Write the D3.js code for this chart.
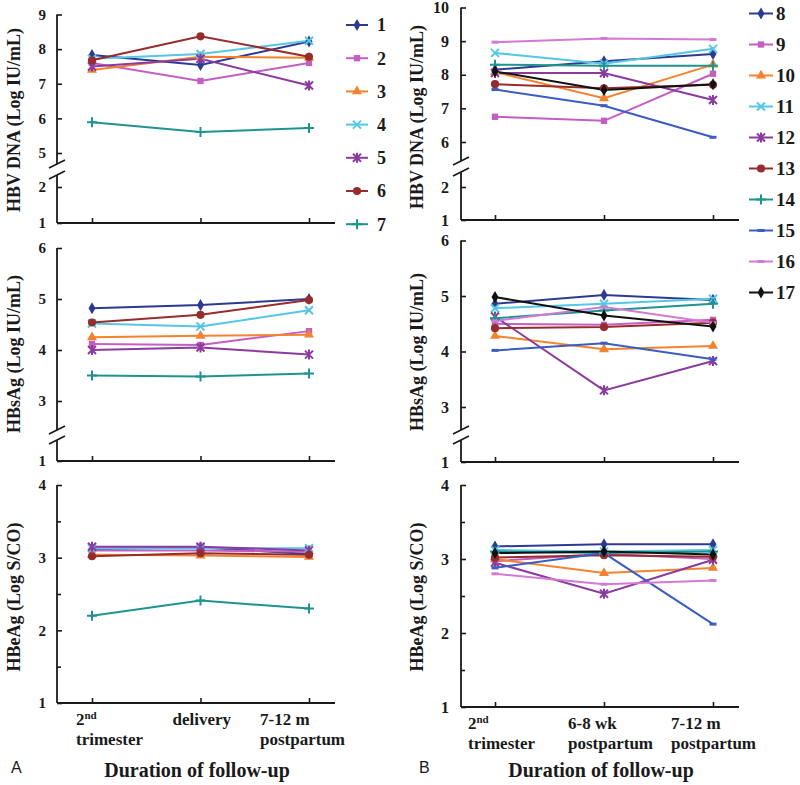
<!DOCTYPE html>
<html><head><meta charset="utf-8">
<script src="https://cdn.jsdelivr.net/npm/d3@7"></script>
<style>body{margin:0;background:#fff}svg{display:block;background:#fff}</style>
</head><body><svg id="c" width="800" height="785"></svg>
<script>
// ---------- DATA ----------
const seriesA = ["1","2","3","4","5","6","7"];
const seriesB = ["8","9","10","11","12","13","14","15","16","17"];
const catsA = ["2nd trimester","delivery","7-12 m postpartum"];
const catsB = ["2nd trimester","6-8 wk postpartum","7-12 m postpartum"];
const catLinesA = [["2nd","trimester"],["delivery"],["7-12 m","postpartum"]];
const catLinesB = [["2nd","trimester"],["6-8 wk","postpartum"],["7-12 m","postpartum"]];
const colorsA = ["#2d3a92","#c45ec4","#f4822f","#55c6e6","#8b3b9e","#972c2c","#1f948f"];
const colorsB = ["#2d3a92","#c45ec4","#f4822f","#55c6e6","#8b3b9e","#972c2c","#1f948f","#3a5cc4","#d47ad4","#111111"];
const markersA = ["diamond","square","triangle","x","star","circle","plus"];
const markersB = ["diamond","square","triangle","x","star","circle","plus","dash","dash","diamond"];

// HBV DNA (Log IU/mL), panel A
const dnaA = [
  [7.83, 7.54, 8.22],
  [7.60, 7.08, 7.60],
  [7.40, 7.78, 7.75],
  [7.72, 7.86, 8.24],
  [7.50, 7.72, 6.95],
  [7.68, 8.37, 7.78],
  [5.89, 5.61, 5.72]
];
// HBsAg (Log IU/mL), panel A
const hbsA = [
  [4.82, 4.88, 5.00],
  [4.12, 4.10, 4.37],
  [4.25, 4.28, 4.30],
  [4.52, 4.46, 4.78],
  [4.00, 4.05, 3.91],
  [4.54, 4.69, 4.98],
  [3.50, 3.48, 3.54]
];
// HBeAg (Log S/CO), panel A
const hbeA = [
  [3.12, 3.14, 3.05],
  [3.10, 3.10, 3.08],
  [3.04, 3.03, 3.01],
  [3.13, 3.13, 3.13],
  [3.15, 3.15, 3.10],
  [3.02, 3.06, 3.04],
  [2.20, 2.41, 2.30]
];
// HBV DNA, panel B
const dnaB = [
  [8.15, 8.40, 8.62],
  [6.75, 6.63, 8.03],
  [8.08, 7.30, 8.30],
  [8.65, 8.33, 8.77],
  [8.05, 8.05, 7.25],
  [7.72, 7.60, 7.70],
  [8.30, 8.27, 8.27],
  [7.56, 7.08, 6.14],
  [8.97, 9.08, 9.05],
  [8.10, 7.55, 7.72]
];
// HBsAg, panel B
const hbsB = [
  [4.86, 5.02, 4.93],
  [4.50, 4.48, 4.57],
  [4.28, 4.04, 4.10],
  [4.78, 4.86, 4.95],
  [4.63, 3.30, 3.83],
  [4.42, 4.44, 4.52],
  [4.60, 4.74, 4.86],
  [4.02, 4.15, 3.86],
  [4.55, 4.80, 4.52],
  [4.98, 4.65, 4.45]
];
// HBeAg, panel B
const hbeB = [
  [3.17, 3.20, 3.20],
  [2.97, 3.07, 3.00],
  [3.00, 2.81, 2.88],
  [3.12, 3.10, 3.12],
  [2.95, 2.53, 2.99],
  [3.02, 3.05, 3.03],
  [3.10, 3.08, 3.10],
  [2.88, 3.08, 2.12],
  [2.80, 2.66, 2.71],
  [3.08, 3.10, 3.06]
];
const ticksDnaA = [1,2,5,6,7,8,9];
const ticksDnaB = [1,2,6,7,8,9,10];
const ticksHbs = [1,3,4,5,6];
const ticksHbe = [1,2,3,4];
const minorHbe = [1.5,2.5,3.5];
const titles = ["HBV DNA (Log IU/mL)","HBsAg (Log IU/mL)","HBeAg (Log S/CO)"];
const xTitle = "Duration of follow-up";

// ---------- LAYOUT ----------
const SERIF = "'Liberation Serif','Times New Roman',serif";
const SANS = "'Liberation Sans',Arial,sans-serif";
const INK = "#1a1a1a";
const svg = d3.select("#c");

const colA = {axisX:57, xEnd:335, xRange:[92,309], cats:catsA, lines:catLinesA, series:seriesA, colors:colorsA, markers:markersA,
  titleX:20, fs:15, pad:11, catDx:[-16,-28,-49]};
const colB = {axisX:461, xEnd:739, xRange:[495,713], cats:catsB, lines:catLinesB, series:seriesB, colors:colorsB, markers:markersB,
  titleX:423, fs:16, pad:12, catDx:[-27,-36,-42]};

const panels = [
  Object.assign({}, colA, {data:dnaA, yDomain:[1,2,5,9], yRange:[223,187,153,14.5], ticks:ticksDnaA, minor:[], brk:[164,175], title:titles[0], titleY:120}),
  Object.assign({}, colA, {data:hbsA, yDomain:[1,3,6], yRange:[461,401,248], ticks:ticksHbs, minor:[], brk:[430,440], title:titles[1], titleY:354}),
  Object.assign({}, colA, {data:hbeA, yDomain:[1,4], yRange:[703,485], ticks:ticksHbe, minor:minorHbe, brk:null, title:titles[2], titleY:597, bottom:true}),
  Object.assign({}, colB, {data:dnaB, yDomain:[1,2,6,10], yRange:[220,187,142,7.5], ticks:ticksDnaB, minor:[], brk:[161,172], title:titles[0], titleY:117}),
  Object.assign({}, colB, {data:hbsB, yDomain:[1,3,6], yRange:[462,407,240.5], ticks:ticksHbs, minor:[], brk:[430,440], title:titles[1], titleY:352}),
  Object.assign({}, colB, {data:hbeB, yDomain:[1,4], yRange:[707,485], ticks:ticksHbe, minor:minorHbe, brk:null, title:titles[2], titleY:597, bottom:true})
];

function drawMarker(g, type, color, cx, cy, s) {
  s = s || 1;
  const t = `translate(${cx},${cy}) scale(${s})`;
  const sym = {diamond:d3.symbolDiamond, square:d3.symbolSquare, triangle:d3.symbolTriangle, circle:d3.symbolCircle};
  const sizes = {diamond:42, square:40, triangle:44, circle:52};
  if (sym[type]) {
    g.append("path").attr("d", d3.symbol().type(sym[type]).size(sizes[type])()).attr("transform", t).attr("fill", color);
  } else {
    const paths = {
      x: "M-4,-4L4,4M-4,4L4,-4",
      star: "M-4,-4L4,4M-4,4L4,-4M0,-5L0,5",
      plus: "M-5,0L5,0M0,-5L0,5",
      dash: "M-3.5,0L3.5,0"
    };
    g.append("path").attr("d", paths[type]).attr("transform", t).attr("fill", "none")
      .attr("stroke", color).attr("stroke-width", type === "dash" ? 3 : 2);
  }
}

function drawPanel(p) {
  const g = svg.append("g");
  const x = d3.scalePoint().domain(p.cats).range(p.xRange);
  const y = d3.scaleLinear().domain(p.yDomain).range(p.yRange);
  const y0 = y(1), yTop = y(p.yDomain[p.yDomain.length-1]);

  // y axis ticks + labels
  const ax = g.append("g").attr("transform", `translate(${p.axisX},0)`)
    .call(d3.axisLeft(y).tickValues(p.ticks).tickSize(-5).tickPadding(p.pad).tickFormat(d3.format("d")));
  ax.select(".domain").remove();
  ax.selectAll("line").attr("stroke", INK).attr("stroke-width", 1.6);
  ax.selectAll("text").attr("font-family", SERIF).attr("font-weight", "bold").attr("font-size", p.fs).attr("fill", INK);
  if (p.minor.length) {
    const mx = g.append("g").attr("transform", `translate(${p.axisX},0)`)
      .call(d3.axisLeft(y).tickValues(p.minor).tickSize(-4).tickFormat(""));
    mx.select(".domain").remove();
    mx.selectAll("line").attr("stroke", INK).attr("stroke-width", 1.6);
  }
  // y axis line (with break)
  const segs = p.brk ? [[yTop, p.brk[0]], [p.brk[1], y0]] : [[yTop, y0]];
  segs.forEach(s => g.append("line").attr("x1", p.axisX).attr("x2", p.axisX).attr("y1", s[0]).attr("y2", s[1])
    .attr("stroke", INK).attr("stroke-width", 1.8));
  if (p.brk) {
    p.brk.forEach(yc => g.append("line").attr("x1", p.axisX - 8).attr("y1", yc + 4).attr("x2", p.axisX + 8).attr("y2", yc - 4)
      .attr("stroke", INK).attr("stroke-width", 1.6));
  }
  // x axis
  const xa = g.append("g").attr("transform", `translate(0,${y0})`)
    .call(d3.axisBottom(x).tickSize(-5).tickFormat(""));
  xa.select(".domain").remove();
  xa.selectAll("line").attr("stroke", INK).attr("stroke-width", 1.6);
  g.append("line").attr("x1", p.axisX).attr("x2", p.xEnd).attr("y1", y0).attr("y2", y0).attr("stroke", INK).attr("stroke-width", 1.8);

  // series
  const line = d3.line().x((d, i) => x(p.cats[i])).y(d => y(d));
  p.data.forEach((vals, si) => {
    g.append("path").attr("d", line(vals)).attr("fill", "none").attr("stroke", p.colors[si]).attr("stroke-width", 2);
  });
  p.data.forEach((vals, si) => {
    vals.forEach((v, i) => drawMarker(g, p.markers[si], p.colors[si], x(p.cats[i]), y(v)));
  });

  // y title
  g.append("text").attr("transform", `translate(${p.titleX},${p.titleY}) rotate(-90)`).attr("text-anchor", "middle")
    .attr("font-family", SERIF).attr("font-weight", "bold").attr("font-size", 18).attr("fill", INK).text(p.title);

  // category labels
  if (p.bottom) {
    p.lines.forEach((ls, ci) => {
      ls.forEach((txt, li) => {
        const t = g.append("text").attr("x", x(p.cats[ci]) + p.catDx[ci]).attr("y", y0 + 22 + li * 20)
          .attr("font-family", SERIF).attr("font-weight", "bold").attr("font-size", 17).attr("fill", INK);
        const m = txt.match(/^(\d+)(st|nd|rd|th)$/);
        if (m) {
          t.append("tspan").text(m[1]);
          t.append("tspan").attr("font-size", 11).attr("dy", -6).text(m[2]);
        } else t.text(txt);
      });
    });
    g.append("text").attr("x", (p.axisX + p.xEnd) / 2 + 1).attr("y", 777).attr("text-anchor", "middle")
      .attr("font-family", SERIF).attr("font-weight", "bold").attr("font-size", 20).attr("fill", INK).text(xTitle);
  }
}
panels.forEach(drawPanel);

// legends
function drawLegend(series, colors, markers, x1, x2, lx, y0, step, fs) {
  const g = svg.append("g");
  series.forEach((s, i) => {
    const yy = y0 + i * step;
    g.append("line").attr("x1", x1).attr("x2", x2).attr("y1", yy).attr("y2", yy).attr("stroke", colors[i]).attr("stroke-width", 2);
    drawMarker(g, markers[i], colors[i], (x1 + x2) / 2, yy);
    g.append("text").attr("x", lx).attr("y", yy).attr("dy", "0.35em").attr("font-family", SERIF).attr("font-weight", "bold")
      .attr("font-size", fs).attr("fill", INK).text(s);
  });
}
drawLegend(seriesA, colorsA, markersA, 346, 368, 377, 25, 33.2, 18);
drawLegend(seriesB, colorsB, markersB, 749, 773, 776, 13.5, 31, 19);

// panel letters
svg.append("text").attr("x", 11).attr("y", 773).attr("font-family", SANS).attr("font-size", 16).attr("fill", INK).text("A");
svg.append("text").attr("x", 419).attr("y", 773).attr("font-family", SANS).attr("font-size", 16).attr("fill", INK).text("B");
</script></body></html>
